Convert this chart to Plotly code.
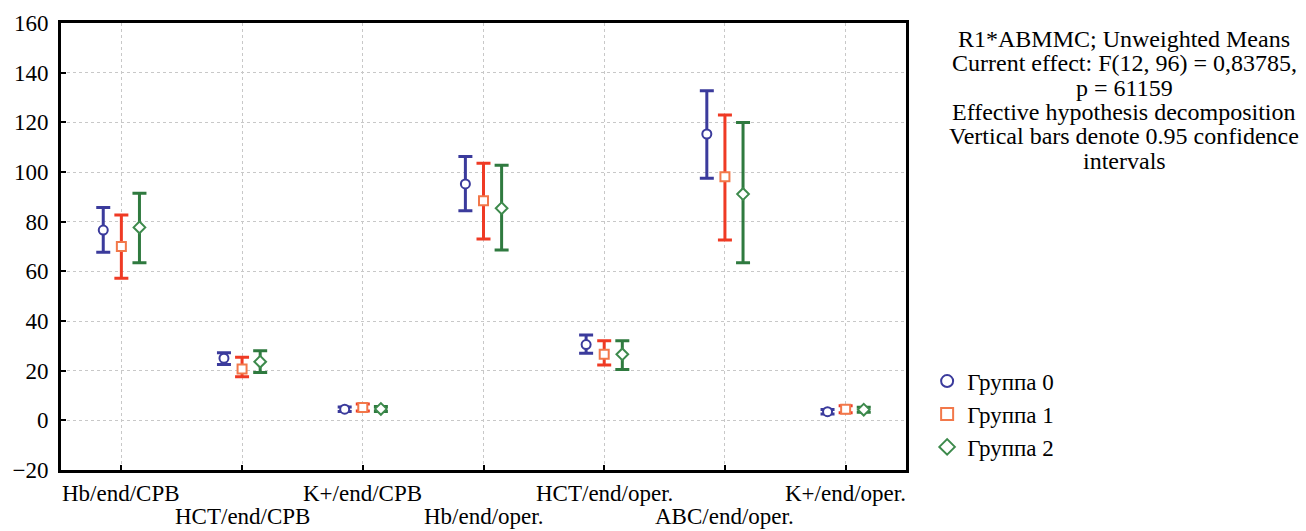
import plotly.graph_objects as go

categories = ["Hb/end/CPB", "HCT/end/CPB", "K+/end/CPB", "Hb/end/oper.",
              "HCT/end/oper.", "ABC/end/oper.", "K+/end/oper."]
groups = ["Группа 0", "Группа 1", "Группа 2"]

means_g0 = [76.6, 25.0, 4.5, 95.2, 30.5, 115.3, 3.5]
lower_g0 = [67.7, 22.5, 3.6, 84.4, 27.0, 97.5, 2.6]
upper_g0 = [85.7, 27.2, 5.4, 106.2, 34.4, 132.7, 4.4]

means_g1 = [70.0, 20.7, 5.2, 88.4, 26.6, 98.1, 4.5]
lower_g1 = [57.2, 17.6, 3.8, 73.0, 22.3, 72.6, 3.1]
upper_g1 = [82.7, 25.4, 6.6, 103.5, 32.0, 123.0, 5.9]

means_g2 = [77.7, 23.6, 4.6, 85.4, 26.6, 91.1, 4.3]
lower_g2 = [63.5, 19.3, 3.6, 68.6, 20.5, 63.5, 3.3]
upper_g2 = [91.4, 28.0, 5.6, 102.7, 32.0, 119.9, 5.3]

y_ticks = [-20, 0, 20, 40, 60, 80, 100, 120, 140, 160]

info_lines = ["R1*ABMMC; Unweighted Means",
              "Current effect: F(12, 96) = 0,83785,",
              "p = 61159",
              "Effective hypothesis decomposition",
              "Vertical bars denote 0.95 confidence",
              "intervals"]

series = [
    (groups[0], means_g0, lower_g0, upper_g0, -0.15, "#3b3b9c", "#3b3b9c", "circle"),
    (groups[1], means_g1, lower_g1, upper_g1, 0.0, "#ef3a24", "#f2784a", "square"),
    (groups[2], means_g2, lower_g2, upper_g2, 0.15, "#2f7a3f", "#3d8a4c", "diamond"),
]

FONT = "Liberation Serif, Times New Roman, serif"
FS = 23

fig = go.Figure()
for name, m, lo, hi, off, col, mcol, sym in series:
    xs = [i + off for i in range(len(categories))]
    fig.add_trace(go.Scatter(
        x=xs, y=m, mode="markers", name=name,
        marker=dict(symbol=sym, size=9, color="white", line=dict(color=mcol, width=2)),
        error_y=dict(type="data", symmetric=False,
                     array=[h - v for h, v in zip(hi, m)],
                     arrayminus=[v - l for v, l in zip(m, lo)],
                     color=col, thickness=3, width=7),
    ))

W, H = 1306, 531
PL, PT = 61, 23
PLOT_W, PLOT_H = 845, 447
PR = W - PL - PLOT_W
PB = H - PT - PLOT_H


def py(pix):
    """pixel row -> paper y"""
    return 1 - (pix - PT) / PLOT_H


annotations = []
for k, line in enumerate(info_lines):
    annotations.append(dict(
        xref="paper", yref="paper", x=(1124 - PL) / PLOT_W,
        y=py(39 + 24.3 * k),
        xanchor="center", yanchor="middle", text=line, showarrow=False,
        font=dict(family=FONT, size=24, color="black"),
    ))

# category labels in two staggered rows
for i, c in enumerate(categories):
    if i % 2 == 0:
        annotations.append(dict(xref="x", yref="paper", x=i, y=py(493),
                                xanchor="center", yanchor="middle", text=c,
                                showarrow=False, font=dict(family=FONT, size=FS)))
    else:
        annotations.append(dict(xref="x", yref="paper", x=i, y=py(531),
                                xanchor="center", yanchor="bottom", text=c,
                                showarrow=False, font=dict(family=FONT, size=FS)))

fig.update_layout(
    width=W, height=H,
    margin=dict(l=PL, r=PR, t=PT, b=PB),
    paper_bgcolor="white", plot_bgcolor="white",
    font=dict(family=FONT, size=FS, color="black"),
    showlegend=True,
    legend=dict(x=1.025, y=0.125, xanchor="left", yanchor="middle",
                font=dict(family=FONT, size=FS), bgcolor="rgba(0,0,0,0)",
                tracegroupgap=0, itemsizing="constant"),
    annotations=annotations,
)

fig.update_xaxes(
    range=[-0.5, len(categories) - 0.5], automargin=False,
    tickvals=list(range(len(categories))), showticklabels=False,
    ticks="inside", ticklen=5, tickcolor="black", tickwidth=2,
    showgrid=True, gridcolor="#c8c8c8", griddash="dot", gridwidth=1,
    showline=True, linecolor="black", linewidth=3, mirror=True,
    zeroline=False,
)
fig.update_yaxes(
    range=[-20, 160], tickvals=y_ticks, automargin=False,
    ticks="inside", ticklen=5, tickcolor="black", tickwidth=2,
    ticklabelstandoff=5,
    showgrid=True, gridcolor="#c8c8c8", griddash="dot", gridwidth=1,
    showline=True, linecolor="black", linewidth=3, mirror=True,
    zeroline=False,
)

fig.write_html("out.html", config={"displayModeBar": False},
               post_script="document.body.style.margin='0';"
                           "document.body.style.overflow='hidden';")
